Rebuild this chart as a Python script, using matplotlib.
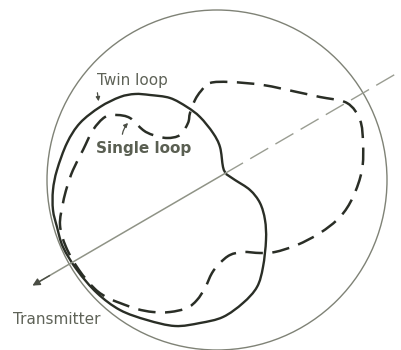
import numpy as np
import matplotlib
matplotlib.use("Agg")
import matplotlib.pyplot as plt
from matplotlib.path import Path
from matplotlib.patches import PathPatch

# outlines (picture pixels, y downwards)
# twin loop: starts and ends at the notch
twin_x = [226, 223, 220, 213, 200, 187, 170, 150, 135, 120, 100, 80, 67, 57, 53, 53, 57,
          63, 77, 97, 120, 147, 175, 200, 223, 243, 257, 263, 266, 265, 260, 250, 235, 226]
twin_y = [174, 167, 147, 133, 117, 107, 98, 95, 94, 97, 107, 123, 143, 170, 190, 210, 227,
          247, 270, 293, 310, 320, 326, 323, 317, 303, 287, 267, 240, 220, 203, 190, 180, 174]

# single loop: closed outline
single_x = [210, 230, 263, 297, 320, 347, 360, 363, 362, 353, 340, 320, 297, 275, 260,
            243, 230, 220, 212, 205, 197, 187, 170, 153, 137, 120, 108, 95, 79, 66, 60,
            63, 67, 73, 83, 93, 105, 117, 130, 143, 153, 167, 180, 188, 190, 195, 201]
single_y = [83, 82, 85, 92, 97, 103, 120, 143, 170, 197, 217, 233, 245, 252, 253,
            252, 255, 263, 273, 288, 300, 308, 312, 312, 309, 303, 298, 289, 270, 247, 225,
            203, 187, 170, 150, 130, 117, 115, 118, 130, 135, 138, 135, 123, 113, 100, 91]

W, H = 402, 350


def smooth(x, y, closed):
    # catmull-rom through the read points, drawn as cubic beziers
    P = np.column_stack([x, y]).astype(float)
    if closed:
        prv, nxt = np.roll(P, 1, 0), np.roll(P, -1, 0)
    else:
        prv = np.vstack([P[:1], P[:-1]])
        nxt = np.vstack([P[1:], P[-1:]])
    T = (nxt - prv) / 2.0
    n = len(P)
    segs = n if closed else n - 1
    verts = [P[0]]
    codes = [Path.MOVETO]
    for i in range(segs):
        j = (i + 1) % n
        verts += [P[i] + T[i] / 3, P[j] - T[j] / 3, P[j]]
        codes += [Path.CURVE4] * 3
    return Path(verts, codes)


fig = plt.figure(figsize=(W / 100, H / 100), dpi=100)
ax = fig.add_axes([0, 0, 1, 1])
ax.set_xlim(0, W)
ax.set_ylim(H, 0)
ax.axis("off")

# outer reference circle
ax.add_patch(plt.Circle((217, 180), 170, fill=False, lw=1.0, color="#7f8276"))

# direction line to the transmitter: solid towards it, dashed behind
ax.plot([36, 225], [283.5, 173.4], color="#8f9386", lw=1.1)
ax.plot([225, 402], [173.4, 70.3], color="#9a9d92", lw=1.0, dashes=(15, 6))
ax.annotate("", xy=(30, 287), xytext=(52, 274.2),
            arrowprops=dict(arrowstyle="-|>", color="#4a4d44", lw=1.0,
                            mutation_scale=11))

# patterns
ax.add_patch(PathPatch(smooth(twin_x, twin_y, False), fill=False,
                       ec="#2a2e26", lw=1.7, joinstyle="miter"))
ax.add_patch(PathPatch(smooth(single_x, single_y, True), fill=False,
                       ec="#2a2e26", lw=1.8, linestyle=(0, (7, 3.8))))

# labels
ax.text(132, 80, "Twin loop", fontsize=11, color="#5f6358", ha="center", va="center")
ax.text(144, 148, "Single loop", fontsize=11, fontweight="bold", color="#5a5f52",
        ha="center", va="center")
ax.text(57, 320, "Transmitter", fontsize=11, color="#5f6358", ha="center", va="center")

ax.annotate("", xy=(99, 104), xytext=(97, 90),
            arrowprops=dict(arrowstyle="-|>", color="#4a4d44", lw=0.9,
                            mutation_scale=6))
ax.annotate("", xy=(130, 121), xytext=(122, 137),
            arrowprops=dict(arrowstyle="-|>", color="#4a4d44", lw=0.9,
                            mutation_scale=6, connectionstyle="arc3,rad=-0.2"))

plt.savefig("out.png", dpi=100)
